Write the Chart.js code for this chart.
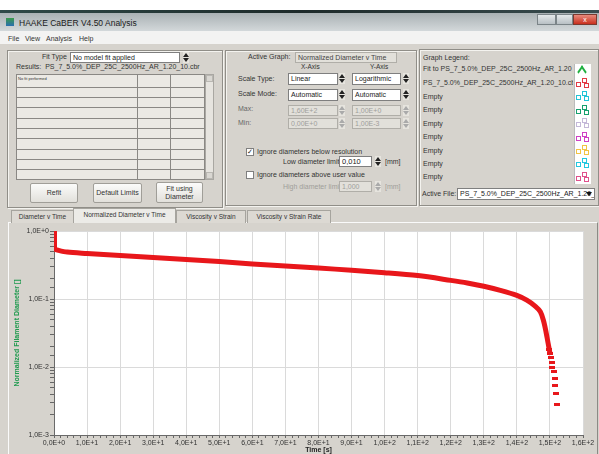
<!DOCTYPE html>
<html>
<head>
<meta charset="utf-8">
<script src="https://cdn.jsdelivr.net/npm/chart.js@4.4.0/dist/chart.umd.min.js"></script>
<style>
body{margin:0;width:599px;height:454px;overflow:hidden;background:#d6d3cd;font-family:"Liberation Sans",Arial,sans-serif;font-size:7px;color:#333;position:relative}
.a{position:absolute;white-space:nowrap;line-height:8px}
.box{position:absolute;background:#fff;border:1px solid #7f7f7f;box-sizing:border-box;padding-left:2px;line-height:9px;overflow:hidden;white-space:nowrap;color:#222}
.dis{background:#e2e0da;color:#a09e9a;border-color:#b0aea8}
.spin{position:absolute;width:6px;height:11px;background:#e6e4de}
.spin:before{content:"";position:absolute;left:0;top:1px;border-left:3px solid transparent;border-right:3px solid transparent;border-bottom:4px solid #222}
.spin:after{content:"";position:absolute;left:0;bottom:1px;border-left:3px solid transparent;border-right:3px solid transparent;border-top:4px solid #222}
.spin.g:before{border-bottom-color:#aaa}
.spin.g:after{border-top-color:#aaa}
.panel{position:absolute;border:1px solid #908e88;box-shadow:inset 1px 1px 0 #f4f3ef,1px 1px 0 #f4f3ef;box-sizing:border-box}
.btn{position:absolute;background:linear-gradient(#fbfbfa,#e2e0db);border:1px solid #a09e98;border-radius:2px;text-align:center;box-sizing:border-box;color:#333;line-height:8px}
.tab{position:absolute;top:210px;height:13px;border:1px solid #a6a49e;border-bottom:none;background:#dcd9d3;box-sizing:border-box;text-align:center;line-height:12px;font-size:6.5px}
.sq{position:absolute;width:3px;height:3px;border:1px solid}
</style>
</head>
<body>
<!-- title bar -->
<div class="a" style="left:0;top:0;width:599px;height:11px;background:#fff"></div>
<div class="a" style="left:0;top:10px;width:599px;height:3px;background:linear-gradient(90deg,#2f4a48,#1d2a2a 50%,#3a4d50)"></div>
<div class="a" style="left:0;top:13px;width:599px;height:18px;background:linear-gradient(#a9b1b4,#d3d8da)"></div>
<div class="a" style="left:6px;top:18px;width:8px;height:8px;background:linear-gradient(#3a9a4a,#2a6fb0)"></div>
<div class="a" style="left:19px;top:19px;font-size:8.5px;color:#1a1a1a">HAAKE CaBER V4.50 Analysis</div>
<div class="a" style="left:537px;top:14px;width:19px;height:11px;background:linear-gradient(#e4e8ea,#b8c0c4);border:1px solid #7b8488;box-sizing:border-box"></div>
<div class="a" style="left:556px;top:14px;width:17px;height:11px;background:linear-gradient(#e4e8ea,#b8c0c4);border:1px solid #7b8488;box-sizing:border-box"></div>
<div class="a" style="left:573px;top:14px;width:24px;height:11px;background:linear-gradient(#e98a7c,#c9301e);border:1px solid #7b3a30;box-sizing:border-box;color:#fff;text-align:center;line-height:9px;font-size:7px">x</div>
<!-- menu -->
<div class="a" style="left:0;top:31px;width:599px;height:13px;background:#f3f3f2"></div>
<div class="a" style="left:8px;top:35px">File</div>
<div class="a" style="left:25px;top:35px">View</div>
<div class="a" style="left:46px;top:35px">Analysis</div>
<div class="a" style="left:79px;top:35px">Help</div>

<!-- left panel -->
<div class="panel" style="left:7px;top:50px;width:216px;height:158px"></div>
<div class="a" style="left:42px;top:53px">Fit Type</div>
<div class="box" style="left:70px;top:52px;width:110px;height:11px">No model fit applied</div>
<div class="spin" style="left:183px;top:52px"></div>
<div class="a" style="left:16px;top:63px">Results:&nbsp; PS_7_5.0%_DEP_25C_2500Hz_AR_1.20_10.cbr</div>
<div class="a" style="left:16px;top:74px;width:189px;height:106px;background:#ebe9e4;border:1px solid #8a8884;box-sizing:border-box"></div>
<div class="a" style="left:18px;top:76px;font-size:4px;line-height:5px">No fit performed</div>
<div id="rows"></div>
<div class="a" style="left:205px;top:74px;width:9px;height:106px;background:#e6e4df;border:1px solid #a9a7a2;box-sizing:border-box"></div>
<div class="a" style="left:206px;top:75px;width:7px;height:7px;background:#d9d7d2;border:1px solid #b9b7b2;box-sizing:border-box"></div>
<div class="a" style="left:206px;top:172px;width:7px;height:7px;background:#d9d7d2;border:1px solid #b9b7b2;box-sizing:border-box"></div>
<div class="btn" style="left:30px;top:183px;width:48px;height:20px;line-height:18px">Refit</div>
<div class="btn" style="left:93px;top:183px;width:49px;height:20px;line-height:18px">Default Limits</div>
<div class="btn" style="left:156px;top:182px;width:47px;height:21px;padding-top:2px">Fit using<br>Diameter</div>

<!-- middle panel -->
<div class="panel" style="left:225px;top:50px;width:192px;height:156px"></div>
<div class="a" style="left:248px;top:53px">Active Graph:</div>
<div class="box dis" style="left:295px;top:52px;width:102px;height:11px;color:#444">Normalized Diameter v Time</div>
<div class="a" style="left:301px;top:63px;font-size:6.5px">X-Axis</div>
<div class="a" style="left:370px;top:63px;font-size:6.5px">Y-Axis</div>
<div class="a" style="left:238px;top:75px">Scale Type:</div>
<div class="box" style="left:288px;top:73px;width:50px;height:12px">Linear</div>
<div class="spin" style="left:339px;top:73px"></div>
<div class="box" style="left:352px;top:73px;width:49px;height:12px">Logarithmic</div>
<div class="spin" style="left:403px;top:73px"></div>
<div class="a" style="left:238px;top:90px">Scale Mode:</div>
<div class="box" style="left:288px;top:89px;width:50px;height:12px">Automatic</div>
<div class="spin" style="left:339px;top:89px"></div>
<div class="box" style="left:352px;top:89px;width:49px;height:12px">Automatic</div>
<div class="spin" style="left:403px;top:89px"></div>
<div class="a" style="left:238px;top:105px;color:#666">Max:</div>
<div class="box dis" style="left:288px;top:105px;width:50px;height:11px">1,60E+2</div>
<div class="spin g" style="left:339px;top:105px"></div>
<div class="box dis" style="left:352px;top:105px;width:49px;height:11px">1,00E+0</div>
<div class="spin g" style="left:403px;top:105px"></div>
<div class="a" style="left:238px;top:119px;color:#666">Min:</div>
<div class="box dis" style="left:288px;top:118px;width:50px;height:11px">0,00E+0</div>
<div class="spin g" style="left:339px;top:118px"></div>
<div class="box dis" style="left:352px;top:118px;width:49px;height:11px">1,00E-3</div>
<div class="spin g" style="left:403px;top:118px"></div>
<div class="box" style="left:246px;top:148px;width:8px;height:8px;padding:0;font-size:7px;line-height:6px;text-align:center">&#10003;</div>
<div class="a" style="left:257px;top:148px">Ignore diameters below resolution</div>
<div class="a" style="left:283px;top:158px">Low diameter limit</div>
<div class="box" style="left:339px;top:156px;width:33px;height:11px;font-size:7.5px">0,010</div>
<div class="spin" style="left:375px;top:156px"></div>
<div class="a" style="left:385px;top:158px">[mm]</div>
<div class="box" style="left:246px;top:171px;width:8px;height:8px"></div>
<div class="a" style="left:257px;top:171px">Ignore diameters above user value</div>
<div class="a" style="left:283px;top:183px;color:#a09e9a">High diameter limit</div>
<div class="box dis" style="left:339px;top:181px;width:33px;height:11px">1,000</div>
<div class="spin g" style="left:375px;top:181px"></div>
<div class="a" style="left:385px;top:183px;color:#a09e9a">[mm]</div>

<!-- right panel -->
<div class="panel" style="left:419px;top:49px;width:180px;height:157px"></div>
<div class="a" style="left:423px;top:54px">Graph Legend:</div>
<div class="a" style="left:423px;top:65px">Fit to PS_7_5.0%_DEP_25C_2500Hz_AR_1.20</div>
<div class="a" style="left:423px;top:79px;width:150px;overflow:hidden">PS_7_5.0%_DEP_25C_2500Hz_AR_1.20_10.cbr</div>
<div id="empties"></div>
<div class="a" style="left:574px;top:64px;width:16px;height:120px;background:#fff;border-left:1px solid #bbb"></div>
<div class="a" style="left:576px;top:66px;width:12px;height:6px;border-top:2px solid #20b040;border-left:2px solid #20b040;transform:rotate(45deg) skew(10deg,10deg);transform-origin:center;width:6px;left:578px;top:68px"></div>
<div id="swatches"></div>
<div class="a" style="left:422px;top:190px">Active File:</div>
<div class="box" style="left:457px;top:188px;width:138px;height:12px">PS_7_5.0%_DEP_25C_2500Hz_AR_1.20_10.cbr</div>
<div class="a" style="left:586px;top:192px;border-left:3.5px solid transparent;border-right:3.5px solid transparent;border-top:4px solid #111"></div>

<!-- tabs -->
<div class="a" style="left:8px;top:222px;width:590px;height:232px;border-left:1px solid #fafafa;border-right:1px solid #8c8a85;border-top:1px solid #fafafa;box-sizing:border-box"></div>
<div class="tab" style="left:11px;width:63px">Diameter v Time</div>
<div class="tab" style="left:73px;width:103px;top:208px;height:15px;background:#ecebe7;z-index:2">Normalized Diameter v Time</div>
<div class="tab" style="left:176px;width:70px">Viscosity v Strain</div>
<div class="tab" style="left:247px;width:84px">Viscosity v Strain Rate</div>

<canvas id="chart" width="590" height="232" style="position:absolute;left:8px;top:222px"></canvas>

<script>
// valori (tempo in s, diametro normalizzato)
const curveTime = [0, 0.3, 1, 4, 10, 20, 30, 40, 50, 60, 70, 80, 90, 100, 110, 120, 125, 130, 135, 140, 143, 145.6, 147.1, 148, 148.7, 149.4, 150];
const curveDiam = [0.57, 0.54, 0.525, 0.49, 0.467, 0.435, 0.407, 0.38, 0.355, 0.327, 0.306, 0.286, 0.264, 0.244, 0.221, 0.188, 0.172, 0.154, 0.134, 0.113, 0.096, 0.078, 0.065, 0.049, 0.035, 0.023, 0.016];
// punti isolati: salto iniziale a t=0 e coda finale
const dotTime = [0, 0, 0, 0, 0, 0, 0, 0, 149.8, 150.1, 150.3, 150.5, 150.7, 151.1, 151.4, 151.6, 151.8, 152.1];
const dotDiam = [1.0, 0.93, 0.86, 0.8, 0.74, 0.69, 0.64, 0.6, 0.018, 0.0158, 0.0138, 0.0118, 0.010, 0.0085, 0.0067, 0.0054, 0.0041, 0.0028];

const xTicksMax = 160;
const yMin = 0.001;
const yMax = 1;
const xTitle = 'Time [s]';
const yTitle = 'Normalized Filament Diameter []';
const emptyRows = ['Empty', 'Empty', 'Empty', 'Empty', 'Empty', 'Empty', 'Empty'];
const swatchColors = ['#e23a44', '#22c4d6', '#17a06e', '#c4b8d8', '#d040c4', '#f2c444', '#22c8e0', '#e0508c'];

// righe della tabella dei risultati
let rowsHtml = '';
[87, 97, 107, 118, 128, 138, 149, 159, 169].forEach(y => {
    rowsHtml += `<div class="a" style="left:17px;top:${y}px;width:187px;height:1px;background:#8a8884"></div>`;
});
rowsHtml += `<div class="a" style="left:137px;top:75px;width:1px;height:104px;background:#8a8884"></div>`;
rowsHtml += `<div class="a" style="left:170px;top:75px;width:1px;height:104px;background:#8a8884"></div>`;
document.getElementById('rows').innerHTML = rowsHtml;

let emptyHtml = '';
emptyRows.forEach((t, i) => {
    emptyHtml += `<div class="a" style="left:423px;top:${93 + i * 13.4}px">${t}</div>`;
});
document.getElementById('empties').innerHTML = emptyHtml;

let swHtml = '';
swatchColors.forEach((c, i) => {
    const y = 78 + i * 13.4;
    swHtml += `<div class="sq" style="left:582px;top:${y}px;border-color:${c}"></div>`;
    swHtml += `<div class="sq" style="left:576px;top:${y + 4}px;border-color:${c}"></div>`;
    swHtml += `<div class="sq" style="left:584px;top:${y + 5}px;border-color:${c}"></div>`;
});
document.getElementById('swatches').innerHTML = swHtml;

// formato tipo 1,0E+1
function sci(v) {
    if (v === 0) return '0,0E+0';
    const e = Math.floor(Math.log10(v) + 1e-9);
    const m = v / Math.pow(10, e);
    return m.toFixed(1).replace('.', ',') + 'E' + (e >= 0 ? '+' : '-') + Math.abs(e);
}
function isPow10(v) {
    const l = Math.log10(v);
    return Math.abs(l - Math.round(l)) < 1e-6;
}

// marcatore rettangolare rosso per i punti
const mark = document.createElement('canvas');
mark.width = 6;
mark.height = 3;
const mctx = mark.getContext('2d');
mctx.fillStyle = '#e8171b';
mctx.fillRect(0, 0, 6, 3);

const plotBg = {
    id: 'plotBg',
    beforeDraw(c) {
        const a = c.chartArea, ctx = c.ctx;
        ctx.save();
        ctx.fillStyle = '#ffffff';
        ctx.fillRect(a.left, a.top, a.right - a.left, a.bottom - a.top);
        ctx.restore();
    }
};

const ctx = document.getElementById('chart').getContext('2d');
window.chart = new Chart(ctx, {
    type: 'scatter',
    data: {
        datasets: [{
            label: 'curve',
            data: curveTime.map((t, i) => ({ x: t, y: curveDiam[i] })),
            showLine: true,
            borderColor: '#e8171b',
            borderWidth: 5,
            pointRadius: 0,
            tension: 0.3
        }, {
            label: 'dots',
            data: dotTime.map((t, i) => ({ x: t, y: dotDiam[i] })),
            showLine: false,
            pointStyle: mark,
            backgroundColor: '#e8171b',
            borderColor: '#e8171b'
        }]
    },
    options: {
        responsive: false,
        animation: false,
        devicePixelRatio: 1,
        layout: { padding: { top: 9, right: 15, left: 0, bottom: 0 } },
        plugins: { legend: { display: false }, tooltip: { enabled: false } },
        scales: {
            x: {
                type: 'linear',
                min: 0,
                max: xTicksMax,
                afterFit: s => { s.height = 19; },
                border: { color: '#6a6a6a' },
                grid: {
                    color: c => (c.tick && c.tick.value % 10 === 0) ? '#dadada' : 'rgba(0,0,0,0)',
                    tickColor: '#666',
                    tickLength: 3
                },
                ticks: {
                    stepSize: 2,
                    autoSkip: false,
                    maxRotation: 0,
                    padding: 1,
                    color: '#333',
                    font: { family: 'Liberation Sans', size: 7 },
                    callback: v => v % 10 === 0 ? sci(v) : ''
                },
                title: {
                    display: true,
                    text: xTitle,
                    color: '#222',
                    padding: { top: 0, bottom: 0 },
                    font: { family: 'Liberation Sans', size: 7, weight: 'bold' }
                }
            },
            y: {
                type: 'logarithmic',
                min: yMin,
                max: yMax,
                afterFit: s => { s.width = 46; },
                border: { color: '#6a6a6a' },
                grid: {
                    color: c => (c.tick && isPow10(c.tick.value)) ? '#dadada' : 'rgba(0,0,0,0)',
                    tickColor: '#666',
                    tickLength: 4
                },
                ticks: {
                    autoSkip: false,
                    padding: 1,
                    color: '#333',
                    font: { family: 'Liberation Sans', size: 7 },
                    callback: v => isPow10(v) ? sci(v) : ''
                },
                title: {
                    display: true,
                    text: yTitle,
                    color: '#1f9a4e',
                    padding: { top: 5, bottom: 0 },
                    font: { family: 'Liberation Sans', size: 7, weight: 'bold' }
                }
            }
        }
    },
    plugins: [plotBg]
});
</script>
</body>
</html>
